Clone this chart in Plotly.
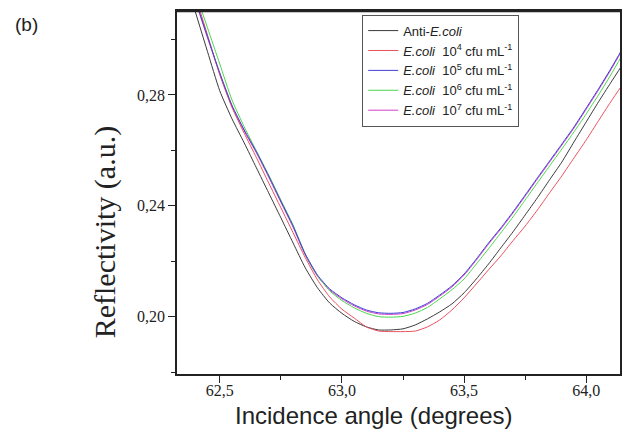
import plotly.graph_objects as go

angle_deg = [62.40, 62.45, 62.50, 62.55, 62.60, 62.65, 62.70, 62.75, 62.80, 62.85,
             62.90, 62.95, 63.00, 63.05, 63.10, 63.15, 63.20, 63.25, 63.30, 63.35,
             63.40, 63.45, 63.50, 63.55, 63.60, 63.65, 63.70, 63.75, 63.80, 63.85,
             63.90, 63.95, 64.00, 64.05, 64.10, 64.15]

anti_ecoli = [0.3100, 0.2956, 0.2815, 0.2714, 0.2627, 0.2537, 0.2447, 0.2357, 0.2266, 0.2176,
              0.2104, 0.2049, 0.2012, 0.1983, 0.1963, 0.1952, 0.1952, 0.1956, 0.1970, 0.1992,
              0.2017, 0.2046, 0.2086, 0.2136, 0.2190, 0.2248, 0.2306, 0.2367, 0.2429, 0.2494,
              0.2558, 0.2631, 0.2703, 0.2775, 0.2844, 0.2912]

ecoli_1e4 = [0.3158, 0.3016, 0.2873, 0.2755, 0.2662, 0.2574, 0.2483, 0.2393, 0.2303, 0.2213,
             0.2133, 0.2071, 0.2027, 0.1995, 0.1963, 0.1948, 0.1946, 0.1946, 0.1948, 0.1963,
             0.1988, 0.2024, 0.2068, 0.2118, 0.2169, 0.2219, 0.2274, 0.2327, 0.2385, 0.2447,
             0.2508, 0.2573, 0.2638, 0.2707, 0.2775, 0.2840]

ecoli_1e5 = [0.3143, 0.3010, 0.2880, 0.2763, 0.2674, 0.2595, 0.2508, 0.2417, 0.2327, 0.2226,
             0.2150, 0.2100, 0.2068, 0.2043, 0.2024, 0.2014, 0.2012, 0.2015, 0.2028, 0.2048,
             0.2078, 0.2111, 0.2154, 0.2208, 0.2266, 0.2320, 0.2378, 0.2439, 0.2501, 0.2562,
             0.2623, 0.2685, 0.2753, 0.2822, 0.2894, 0.2970]

ecoli_1e6 = [0.3170, 0.3042, 0.2912, 0.2782, 0.2685, 0.2598, 0.2512, 0.2421, 0.2331, 0.2226,
             0.2148, 0.2093, 0.2058, 0.2032, 0.2012, 0.2000, 0.1998, 0.2001, 0.2013, 0.2033,
             0.2064, 0.2097, 0.2136, 0.2190, 0.2245, 0.2302, 0.2360, 0.2421, 0.2483, 0.2544,
             0.2605, 0.2667, 0.2732, 0.2800, 0.2872, 0.2948]

ecoli_1e7 = [0.3139, 0.3006, 0.2876, 0.2759, 0.2670, 0.2591, 0.2504, 0.2413, 0.2323, 0.2222,
             0.2146, 0.2096, 0.2064, 0.2039, 0.2020, 0.2010, 0.2008, 0.2011, 0.2024, 0.2044,
             0.2074, 0.2107, 0.2150, 0.2204, 0.2262, 0.2316, 0.2374, 0.2435, 0.2497, 0.2558,
             0.2619, 0.2681, 0.2749, 0.2818, 0.2890, 0.2966]

NB = "\u00a0"
series_names = [
    "Anti-<i>E.coli</i>",
    "<i>E.coli</i>" + NB + NB + "10<sup>4</sup>" + NB + "cfu mL<sup>-1</sup>",
    "<i>E.coli</i>" + NB + NB + "10<sup>5</sup>" + NB + "cfu mL<sup>-1</sup>",
    "<i>E.coli</i>" + NB + NB + "10<sup>6</sup>" + NB + "cfu mL<sup>-1</sup>",
    "<i>E.coli</i>" + NB + NB + "10<sup>7</sup>" + NB + "cfu mL<sup>-1</sup>",
]
series_values = [anti_ecoli, ecoli_1e4, ecoli_1e5, ecoli_1e6, ecoli_1e7]
series_colors = ["#3a3a3a", "#e8505e", "#4040d8", "#4cd64c", "#d040c8"]
draw_order = [4, 0, 1, 3, 2]

fig = go.Figure()
for i in draw_order:
    fig.add_trace(go.Scatter(
        x=angle_deg, y=series_values[i], mode="lines", name=series_names[i],
        line=dict(color=series_colors[i], width=1, shape="spline", smoothing=0.6),
        legendrank=i + 1,
    ))

fig.update_layout(
    width=630, height=435,
    margin=dict(l=177, r=8, t=11, b=61),
    paper_bgcolor="white", plot_bgcolor="white",
    separators=",.",
    showlegend=True,
    legend=dict(
        x=0.418, y=0.99, xanchor="left", yanchor="top",
        bgcolor="white", bordercolor="#555", borderwidth=1,
        font=dict(family="Liberation Sans, Arial", size=13, color="#222"),
        itemwidth=30, tracegroupgap=0,
    ),
    xaxis=dict(
        range=[62.325, 64.138], tickvals=[62.5, 63.0, 63.5, 64.0], tickformat=".1f",
        showline=True, linecolor="#222", linewidth=1.5, mirror=True,
        ticks="outside", ticklen=7, tickwidth=1.2, tickcolor="#222",
        minor=dict(tickvals=[62.75, 63.25, 63.75], ticks="outside", ticklen=4, tickcolor="#222", tickwidth=1.2),
        showgrid=False, zeroline=False, ticklabelstandoff=-6,
        tickfont=dict(family="Liberation Serif, Times New Roman", size=16, color="#222"),
    ),
    yaxis=dict(
        range=[0.1793, 0.3103], tickvals=[0.20, 0.24, 0.28], tickformat=".2f",
        showline=True, linecolor="#222", linewidth=1.5, mirror=True,
        ticks="outside", ticklen=7, tickwidth=1.2, tickcolor="#222",
        minor=dict(tickvals=[0.18, 0.22, 0.26, 0.30], ticks="outside", ticklen=4, tickcolor="#222", tickwidth=1.2),
        showgrid=False, zeroline=False,
        tickfont=dict(family="Liberation Serif, Times New Roman", size=16, color="#222"),
    ),
    annotations=[
        dict(text="Reflectivity (a.u.)", xref="paper", yref="paper",
             x=-0.162, y=0.391, xanchor="center", yanchor="middle", textangle=-90,
             showarrow=False, font=dict(family="Liberation Serif, Times New Roman", size=30, color="#222")),
        dict(text="Incidence angle (degrees)", xref="paper", yref="paper",
             x=0.445, y=-0.113, xanchor="center", yanchor="middle",
             showarrow=False, font=dict(family="Liberation Sans, Arial", size=24, color="#222")),
        dict(text="(b)", xref="paper", yref="paper", x=-0.34, y=0.964,
             xanchor="center", yanchor="middle", showarrow=False,
             font=dict(family="Liberation Sans, Arial", size=19, color="#222")),
    ],
    shapes=[
        dict(type="line", xref="paper", yref="paper", x0=0, x1=1, y0=1, y1=1,
             line=dict(color="#222", width=2.5)),
    ],
)

fig.write_html("out.html", config={"displayModeBar": False},
               post_script="document.body.style.margin='0px';")
